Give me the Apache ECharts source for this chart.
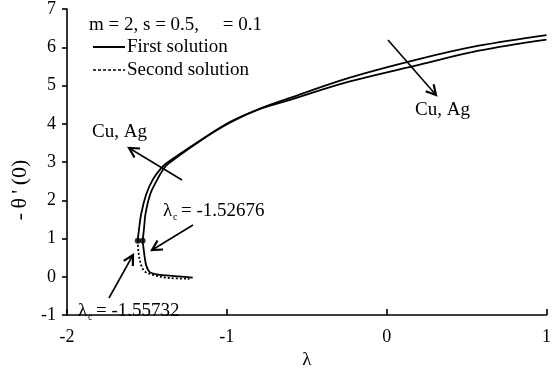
<!DOCTYPE html>
<html>
<head>
<meta charset="utf-8">
<script src="https://cdn.jsdelivr.net/npm/echarts@6/dist/echarts.min.js"></script>
<style>
  html, body { margin: 0; padding: 0; background: #fff; }
  #chart { width: 554px; height: 375px; }
</style>
</head>
<body>
<div id="chart"></div>
<script>
// Critical values of lambda where the two solution branches meet
const lambdaCritical = [-1.55732, -1.52676];
const thetaCritical = [0.94, 0.94];

// Curve 1 (critical point at lambda = -1.55732)
const curve1FirstLambda = [-1.55732, -1.5524, -1.5356, -1.5044, -1.4632, -1.4107, -1.3777, -1.1717, -0.9844, -0.7971, -0.6099, -0.2353, 0.2016, 0.5762, 1.0];
const curve1FirstTheta  = [0.94, 1.14, 1.65, 2.16, 2.54, 2.84, 2.97, 3.55, 4.04, 4.39, 4.67, 5.20, 5.69, 6.04, 6.32];
const curve1SecondLambda = [-1.55732, -1.5524, -1.5356, -1.5106, -1.4526, -1.359, -1.234];
const curve1SecondTheta  = [0.94, 0.63, 0.30, 0.13, 0.04, -0.03, -0.05];

// Curve 2 (critical point at lambda = -1.52676)
const curve2FirstLambda = [-1.52676, -1.518, -1.5087, -1.4794, -1.4419, -1.4007, -1.3714, -1.1717, -0.9844, -0.7971, -0.6099, -0.2353, 0.2016, 0.5762, 1.0];
const curve2FirstTheta  = [0.94, 1.27, 1.65, 2.16, 2.49, 2.79, 2.94, 3.54, 4.02, 4.38, 4.62, 5.10, 5.54, 5.91, 6.20];
const curve2SecondLambda = [-1.52676, -1.515, -1.5044, -1.4838, -1.432, -1.3277, -1.2135];
const curve2SecondTheta  = [0.94, 0.55, 0.30, 0.13, 0.06, 0.02, -0.02];

const xTicks = { min: -2, max: 1, step: 1 };
const yTicks = { min: -1, max: 7, step: 1 };

const SERIF = "'Liberation Serif', 'Times New Roman', serif";
const pairs = (xs, ys) => xs.map((x, i) => [x, ys[i]]);

function lineSeries(xs, ys, dashed) {
  return {
    type: 'line',
    data: pairs(xs, ys),
    smooth: 0.35,
    showSymbol: false,
    silent: true,
    lineStyle: { color: '#000', width: 1.8, type: dashed ? [2, 2] : 'solid' },
    z: 3
  };
}

// Arrow with an open head, from (x1,y1) to (x2,y2)
function arrow(x1, y1, x2, y2) {
  const a = Math.atan2(y2 - y1, x2 - x1);
  const h = 11, spread = 0.5;
  const p1 = [x2 - h * Math.cos(a - spread), y2 - h * Math.sin(a - spread)];
  const p2 = [x2 - h * Math.cos(a + spread), y2 - h * Math.sin(a + spread)];
  return [
    { type: 'line', shape: { x1, y1, x2, y2 }, style: { stroke: '#000', lineWidth: 1.6 } },
    { type: 'polyline', shape: { points: [p1, [x2, y2], p2] }, style: { stroke: '#000', lineWidth: 2.2, fill: null } }
  ];
}

function text(x, y, str, size, align) {
  return {
    type: 'text', x, y,
    style: { text: str, font: size + 'px ' + SERIF, fill: '#000', textAlign: align || 'left', textVerticalAlign: 'middle' }
  };
}

function lambdaC(x, y, valueStr) {
  return [
    text(x, y, 'λ', 19),
    text(x + 10, y + 6, 'c', 10),
    text(x + 18, y, '= ' + valueStr, 19)
  ];
}

const chart = echarts.init(document.getElementById('chart'), null, { renderer: 'canvas' });

chart.setOption({
  animation: false,
  backgroundColor: '#fff',
  grid: { left: 67, right: 6, top: 9, bottom: 50, containLabel: false },
  xAxis: {
    type: 'value', min: xTicks.min, max: xTicks.max, interval: xTicks.step,
    name: 'λ', nameLocation: 'middle', nameGap: 31,
    nameTextStyle: { fontFamily: SERIF, fontSize: 19, color: '#000' },
    axisLine: { onZero: false, lineStyle: { color: '#000', width: 1.6 } },
    axisTick: { inside: true, length: 6, lineStyle: { color: '#000', width: 1.6 } },
    axisLabel: { fontFamily: SERIF, fontSize: 18, color: '#000', margin: 13 },
    splitLine: { show: false }
  },
  yAxis: {
    type: 'value', min: yTicks.min, max: yTicks.max, interval: yTicks.step,
    axisLine: { onZero: false, lineStyle: { color: '#000', width: 1.6 } },
    axisTick: { inside: false, length: 5, lineStyle: { color: '#000', width: 1.6 } },
    axisLabel: { fontFamily: SERIF, fontSize: 18, color: '#000', margin: 11 },
    splitLine: { show: false }
  },
  series: [
    lineSeries(curve1FirstLambda, curve1FirstTheta, false),
    lineSeries(curve1SecondLambda, curve1SecondTheta, true),
    lineSeries(curve2FirstLambda, curve2FirstTheta, false),
    lineSeries(curve2SecondLambda, curve2SecondTheta, false),
    {
      type: 'scatter',
      data: pairs(lambdaCritical, thetaCritical),
      symbol: 'circle', symbolSize: 6,
      itemStyle: { color: '#000' },
      silent: true, z: 4
    }
  ],
  graphic: [
    // y-axis title
    {
      type: 'text', x: 20, y: 190, rotation: Math.PI / 2,
      style: { text: "-\u2009θ\u2009'\u2009(0)", font: "22px " + SERIF, fill: '#000', textAlign: 'center', textVerticalAlign: 'middle' }
    },

    // parameter line and line-style key
    text(89, 25, 'm = 2, s = 0.5,\u00a0\u00a0\u00a0\u00a0\u00a0= 0.1', 19),
    { type: 'line', shape: { x1: 93, y1: 47, x2: 125, y2: 47 }, style: { stroke: '#000', lineWidth: 2 } },
    text(127, 47, 'First solution', 19),
    { type: 'line', shape: { x1: 93, y1: 70, x2: 125, y2: 70 }, style: { stroke: '#000', lineWidth: 1.5, lineDash: [3, 2] } },
    text(127, 70, 'Second solution', 19),

    // material labels
    text(415, 110, 'Cu, Ag', 19),
    ...arrow(388, 40, 436, 95),
    text(92, 132, 'Cu, Ag', 19),
    ...arrow(182, 180, 129, 148),

    // critical point labels
    ...lambdaC(163, 211, '-1.52676'),
    ...arrow(193, 225, 152, 250),
    ...lambdaC(78, 311, '-1.55732'),
    ...arrow(109, 298, 133, 255)
  ]
});
</script>
</body>
</html>
